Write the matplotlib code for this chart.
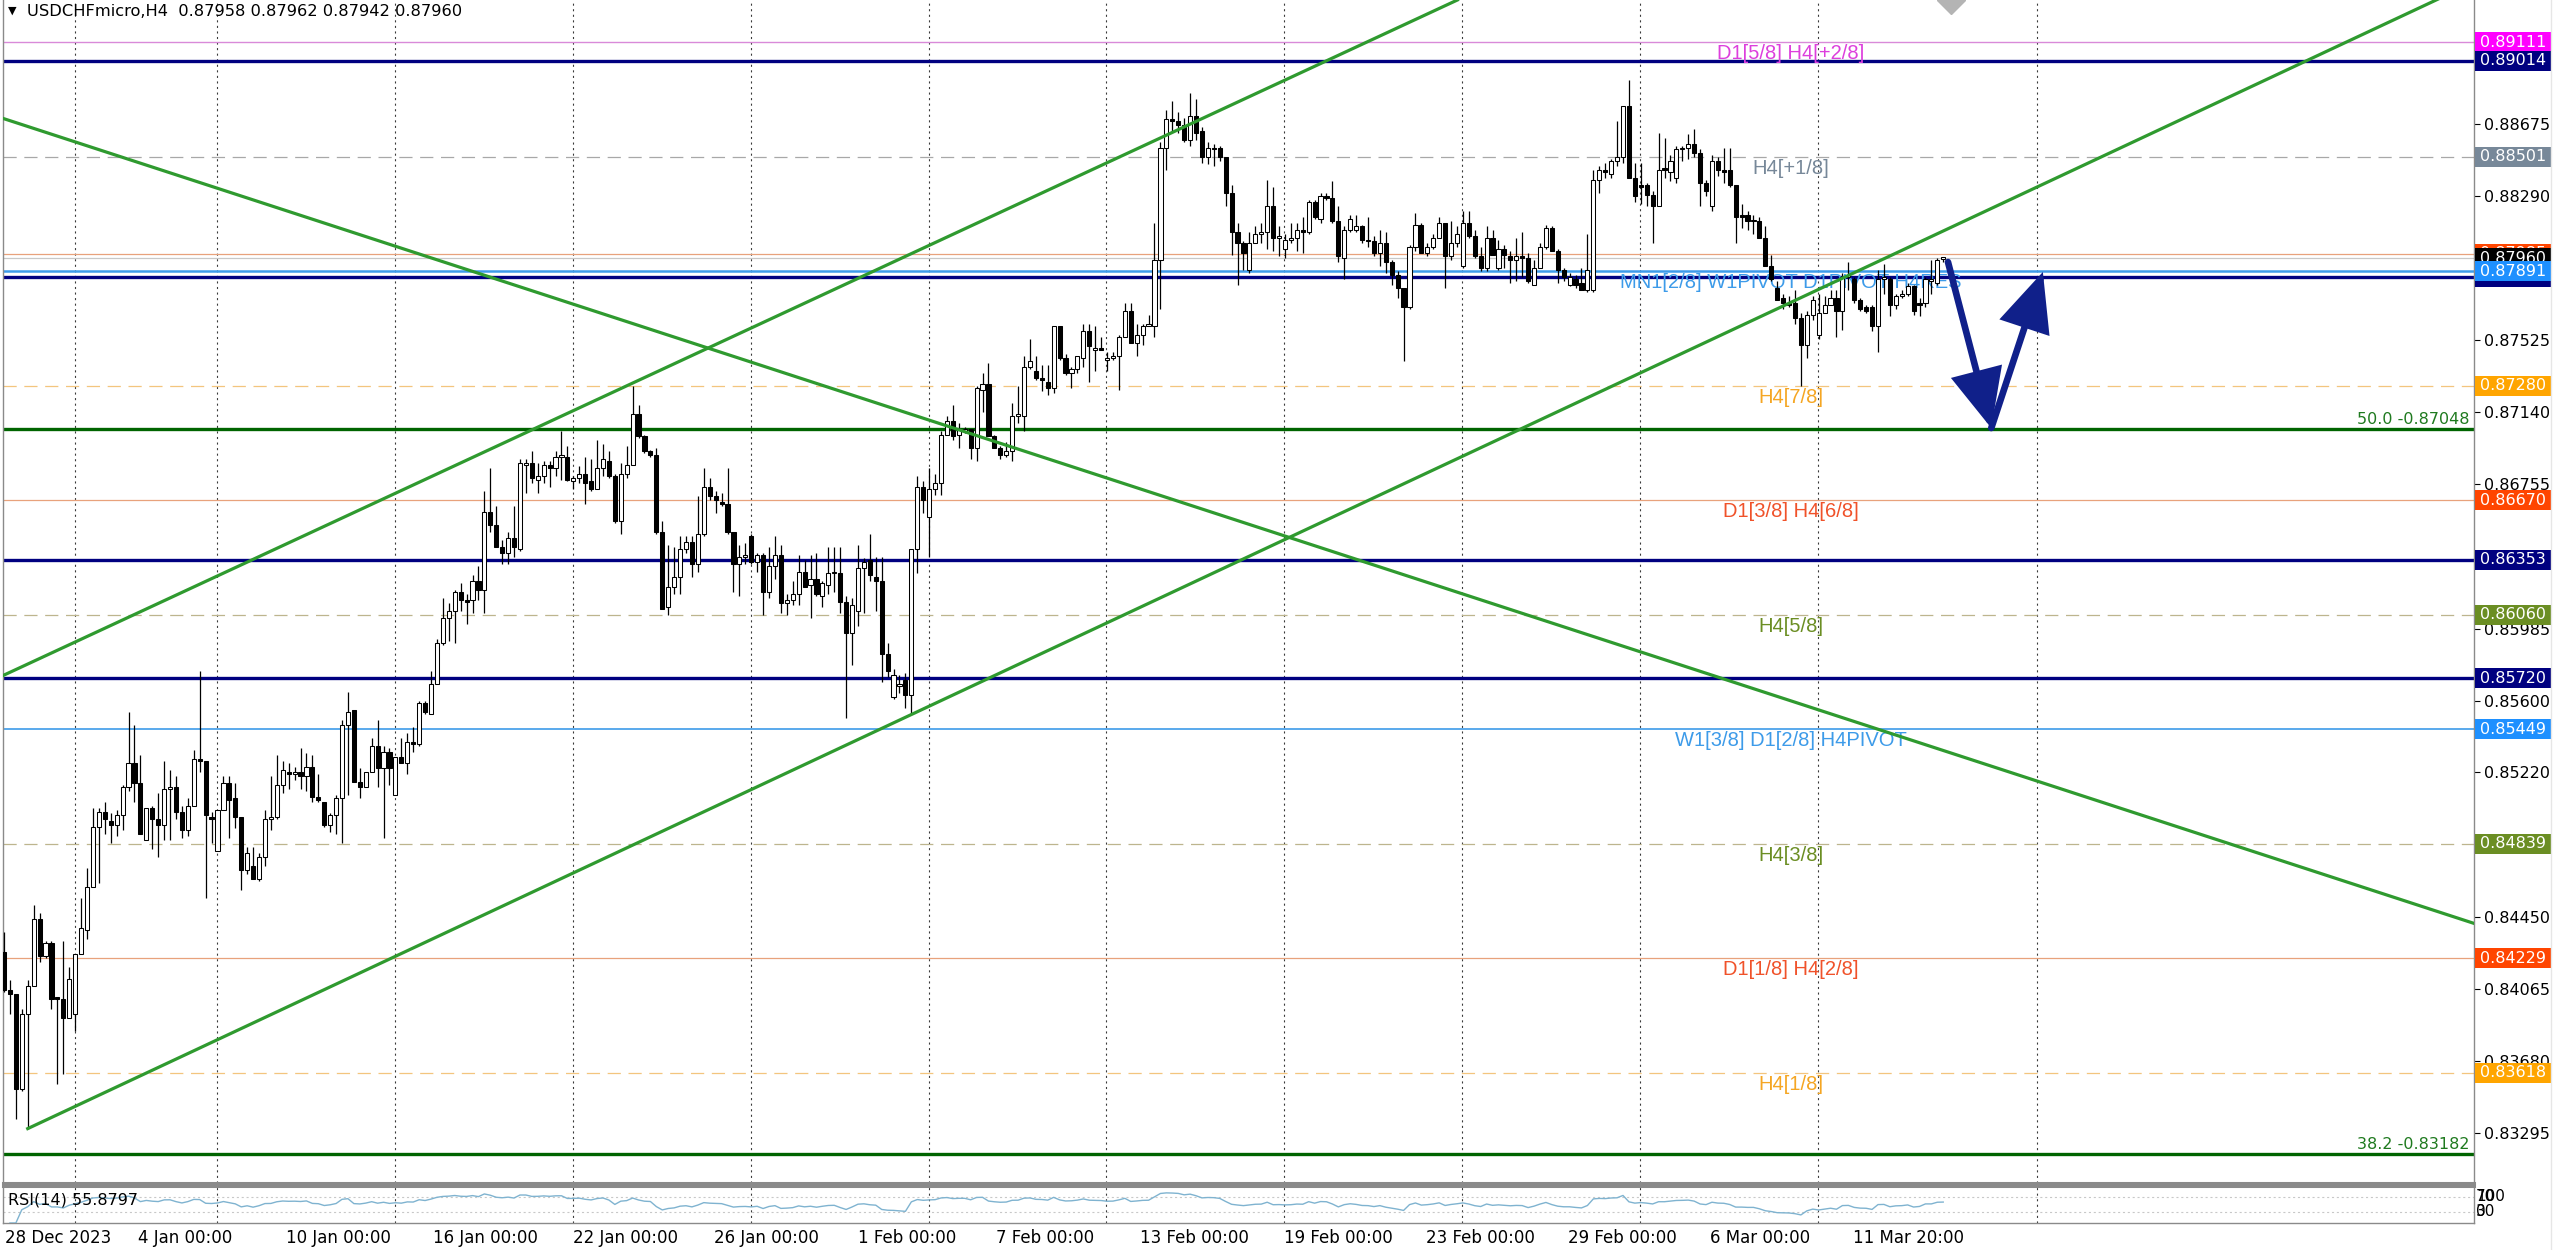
import numpy as np
import pandas as pd
import matplotlib
matplotlib.use("Agg")
import matplotlib.pyplot as plt
import matplotlib.transforms as mtrans
from matplotlib.patches import Rectangle, FancyArrowPatch
from matplotlib.lines import Line2D

plt.rcParams['lines.scale_dashes'] = False
plt.rcParams['font.family'] = ['DejaVu Sans']

# ---------------- data (USDCHFmicro, H4) ----------------
opens = [
 .8426,.8406,.8404,.8353,.8393,.8408,.8444,.8424,.8431,.8402,
 .8401,.8391,.8393,.8425,.8438,.8461,.8493,.8501,.8496,.8494,
 .8499,.8514,.8527,.8516,.8486,.8503,.8497,.8494,.8513,.8514,
 .8501,.8491,.8504,.8529,.8528,.8498,.8480,.8502,.8516,.8508,
 .8498,.8470,.8472,.8465,.8477,.8497,.8498,.8515,.8522,.8521,
 .8522,.8520,.8525,.8509,.8506,.8494,.8499,.8508,.8547,.8555,
 .8517,.8514,.8522,.8536,.8524,.8533,.8510,.8530,.8527,.8538,
 .8537,.8559,.8553,.8569,.8591,.8604,.8608,.8618,.8614,.8614,
 .8624,.8619,.8661,.8654,.8642,.8639,.8647,.8641,.8686,.8687,
 .8678,.8680,.8686,.8684,.8690,.8690,.8677,.8679,.8681,.8677,
 .8673,.8684,.8688,.8680,.8656,.8681,.8686,.8713,.8701,.8693,
 .8691,.8650,.8610,.8621,.8626,.8641,.8645,.8633,.8649,.8674,
 .8669,.8666,.8665,.8650,.8633,.8637,.8648,.8634,.8638,.8618,
 .8632,.8638,.8612,.8614,.8617,.8629,.8622,.8625,.8616,.8622,
 .8628,.8628,.8613,.8596,.8608,.8631,.8635,.8626,.8624,.8585,
 .8562,.8568,.8571,.8563,.8641,.8674,.8658,.8673,.8676,.8702,
 .8709,.8702,.8704,.8705,.8695,.8726,.8729,.8701,.8695,.8691,
 .8693,.8712,.8712,.8738,.8736,.8732,.8730,.8727,.8760,.8743,
 .8735,.8737,.8743,.8757,.8747,.8748,.8742,.8743,.8744,.8754,
 .8768,.8751,.8755,.8760,.8760,.8795,.8855,.8870,.8869,.8867,
 .8859,.8872,.8864,.8850,.8855,.8855,.8850,.8831,.8810,.8804,
 .8790,.8804,.8809,.8810,.8824,.8807,.8801,.8806,.8807,.8811,
 .8810,.8826,.8817,.8829,.8828,.8816,.8796,.8811,.8811,.8813,
 .8806,.8805,.8799,.8804,.8794,.8787,.8780,.8770,.8802,.8814,
 .8799,.8802,.8807,.8815,.8797,.8804,.8792,.8815,.8808,.8797,
 .8791,.8807,.8791,.8801,.8797,.8795,.8797,.8796,.8782,.8791,
 .8802,.8812,.8800,.8790,.8782,.8785,.8783,.8779,.8779,.8838,
 .8843,.8841,.8848,.8850,.8877,.8839,.8835,.8835,.8830,.8824,
 .8844,.8842,.8839,.8854,.8855,.8857,.8852,.8836,.8824,.8848,
 .8843,.8843,.8835,.8819,.8819,.8816,.8816,.8807,.8792,.8780,
 .8775,.8772,.8772,.8764,.8750,.8766,.8755,.8767,.8771,.8775,
 .8768,.8786,.8785,.8774,.8770,.8770,.8760,.8785,.8785,.8771,
 .8776,.8777,.8781,.8772,.8772,.8784,.8783,.87958]
highs = [
 .8437,.8411,.8404,.8396,.8411,.8451,.8447,.8432,.8432,.8402,
 .8432,.8418,.8425,.8455,.8471,.8503,.8503,.8506,.8500,.8502,
 .8515,.8554,.8547,.8531,.8503,.8504,.8511,.8528,.8523,.8520,
 .8504,.8508,.8534,.8576,.8528,.8501,.8502,.8520,.8520,.8516,
 .8498,.8482,.8482,.8479,.8502,.8520,.8531,.8528,.8527,.8525,
 .8535,.8532,.8531,.8521,.8506,.8500,.8510,.8550,.8565,.8555,
 .8524,.8522,.8540,.8550,.8536,.8535,.8530,.8540,.8543,.8546,
 .8560,.8560,.8576,.8593,.8615,.8612,.8619,.8623,.8617,.8627,
 .8632,.8672,.8684,.8664,.8646,.8650,.8664,.8689,.8689,.8693,
 .8687,.8688,.8688,.8693,.8704,.8696,.8680,.8685,.8690,.8689,
 .8699,.8697,.8693,.8681,.8687,.8696,.8728,.8718,.8702,.8694,
 .8695,.8656,.8643,.8642,.8648,.8648,.8648,.8669,.8684,.8679,
 .8672,.8671,.8684,.8650,.8643,.8644,.8649,.8639,.8639,.8642,
 .8648,.8643,.8617,.8624,.8638,.8635,.8638,.8639,.8624,.8642,
 .8642,.8642,.8616,.8615,.8643,.8636,.8649,.8637,.8637,.8591,
 .8577,.8574,.8575,.8641,.8680,.8677,.8684,.8681,.8704,.8712,
 .8718,.8708,.8706,.8705,.8728,.8735,.8740,.8702,.8696,.8698,
 .8719,.8728,.8744,.8753,.8744,.8739,.8739,.8760,.8760,.8745,
 .8738,.8744,.8761,.8761,.8760,.8754,.8746,.8746,.8755,.8772,
 .8772,.8761,.8761,.8766,.8815,.8858,.8875,.8880,.8874,.8871,
 .8884,.8881,.8866,.8858,.8857,.8856,.8850,.8835,.8815,.8805,
 .8810,.8813,.8815,.8838,.8834,.8813,.8809,.8815,.8815,.8818,
 .8827,.8827,.8831,.8831,.8837,.8824,.8813,.8819,.8819,.8814,
 .8818,.8808,.8811,.8810,.8795,.8789,.8780,.8803,.8820,.8815,
 .8804,.8809,.8818,.8815,.8816,.8813,.8821,.8821,.8811,.8802,
 .8813,.8811,.8806,.8803,.8800,.8807,.8810,.8799,.8795,.8804,
 .8814,.8813,.8801,.8791,.8788,.8787,.8791,.8809,.8843,.8845,
 .8847,.8849,.8869,.8877,.8891,.8847,.8847,.8836,.8832,.8863,
 .8860,.8851,.8856,.8856,.8862,.8865,.8854,.8838,.8851,.8850,
 .8855,.8855,.8835,.8825,.8821,.8819,.8818,.8813,.8798,.8784,
 .8777,.8776,.8779,.8767,.8768,.8776,.8777,.8776,.8779,.8779,
 .8788,.8794,.8786,.8775,.8771,.8771,.8790,.8793,.8786,.8777,
 .8779,.8783,.8782,.8775,.8786,.8795,.8796,.87962]
lows = [
 .8405,.8393,.8337,.8352,.8332,.8408,.8421,.8423,.8396,.8356,
 .8361,.8391,.8384,.8425,.8433,.8461,.8463,.8489,.8484,.8488,
 .8491,.8512,.8506,.8489,.8486,.8481,.8477,.8486,.8486,.8497,
 .8487,.8488,.8504,.8522,.8455,.8484,.8480,.8502,.8487,.8492,
 .8459,.8468,.8465,.8464,.8472,.8491,.8497,.8511,.8513,.8518,
 .8513,.8512,.8506,.8506,.8493,.8490,.8489,.8484,.8510,.8517,
 .8508,.8514,.8522,.8514,.8487,.8515,.8510,.8527,.8521,.8533,
 .8536,.8553,.8553,.8569,.8590,.8592,.8591,.8608,.8601,.8607,
 .8614,.8607,.8650,.8642,.8633,.8633,.8637,.8640,.8671,.8676,
 .8671,.8676,.8674,.8680,.8678,.8677,.8673,.8676,.8665,.8672,
 .8673,.8680,.8679,.8655,.8649,.8679,.8686,.8700,.8692,.8690,
 .8649,.8609,.8606,.8617,.8617,.8639,.8626,.8629,.8648,.8667,
 .8660,.8664,.8649,.8618,.8616,.8633,.8633,.8629,.8606,.8615,
 .8625,.8607,.8606,.8611,.8611,.8621,.8604,.8616,.8610,.8617,
 .8618,.8607,.8551,.8579,.8600,.8607,.8624,.8608,.8570,.8573,
 .8561,.8564,.8556,.8553,.8628,.8660,.8637,.8670,.8670,.8702,
 .8699,.8695,.8703,.8689,.8688,.8714,.8701,.8695,.8689,.8690,
 .8688,.8708,.8704,.8737,.8731,.8725,.8723,.8724,.8742,.8734,
 .8727,.8735,.8738,.8730,.8736,.8747,.8736,.8742,.8726,.8754,
 .8751,.8744,.8750,.8760,.8754,.8769,.8843,.8864,.8863,.8858,
 .8856,.8859,.8847,.8846,.8845,.8848,.8824,.8798,.8782,.8790,
 .8788,.8804,.8804,.8801,.8800,.8797,.8796,.8804,.8800,.8799,
 .8809,.8817,.8815,.8827,.8815,.8794,.8785,.8810,.8810,.8804,
 .8802,.8797,.8792,.8788,.8782,.8775,.8741,.8769,.8800,.8799,
 .8797,.8801,.8807,.8780,.8795,.8802,.8791,.8807,.8796,.8789,
 .8789,.8798,.8790,.8791,.8783,.8784,.8786,.8783,.8782,.8791,
 .8801,.8800,.8783,.8784,.8781,.8780,.8779,.8778,.8778,.8831,
 .8839,.8839,.8845,.8847,.8839,.8826,.8825,.8824,.8804,.8824,
 .8839,.8837,.8836,.8848,.8849,.8850,.8824,.8829,.8821,.8840,
 .8836,.8834,.8804,.8812,.8811,.8809,.8807,.8792,.8784,.8774,
 .8769,.8770,.8761,.8728,.8743,.8763,.8753,.8767,.8771,.8754,
 .8758,.8779,.8772,.8768,.8767,.8757,.8746,.8777,.8765,.8769,
 .8775,.8776,.8766,.8765,.8770,.8777,.8782,.87942]
closes = [
 .8406,.8404,.8353,.8393,.8408,.8444,.8424,.8431,.8401,.8401,
 .8391,.8412,.8425,.8439,.8461,.8493,.8501,.8497,.8494,.8499,
 .8514,.8527,.8516,.8489,.8503,.8497,.8494,.8513,.8514,.8501,
 .8491,.8504,.8529,.8528,.8499,.8497,.8502,.8516,.8507,.8498,
 .8470,.8479,.8465,.8477,.8497,.8498,.8515,.8523,.8521,.8522,
 .8520,.8525,.8509,.8507,.8494,.8499,.8508,.8547,.8554,.8517,
 .8514,.8522,.8536,.8524,.8533,.8524,.8530,.8527,.8538,.8537,
 .8559,.8554,.8569,.8591,.8604,.8608,.8618,.8614,.8613,.8624,
 .8619,.8661,.8654,.8642,.8639,.8647,.8642,.8687,.8687,.8679,
 .8680,.8686,.8684,.8690,.8691,.8678,.8679,.8681,.8676,.8673,
 .8684,.8689,.8680,.8656,.8681,.8686,.8713,.8701,.8693,.8691,
 .8650,.8609,.8621,.8626,.8641,.8645,.8633,.8649,.8674,.8669,
 .8667,.8665,.8650,.8633,.8637,.8638,.8634,.8638,.8618,.8632,
 .8638,.8612,.8614,.8617,.8629,.8621,.8625,.8617,.8623,.8628,
 .8629,.8613,.8596,.8611,.8631,.8634,.8627,.8624,.8585,.8576,
 .8574,.8569,.8563,.8641,.8674,.8667,.8673,.8676,.8702,.8709,
 .8701,.8705,.8705,.8695,.8727,.8729,.8701,.8695,.8691,.8693,
 .8712,.8713,.8738,.8741,.8732,.8731,.8727,.8760,.8743,.8735,
 .8737,.8744,.8757,.8749,.8748,.8747,.8743,.8744,.8754,.8768,
 .8751,.8755,.8760,.8761,.8795,.8855,.8870,.8869,.8867,.8859,
 .8872,.8863,.8850,.8855,.8854,.8850,.8831,.8810,.8804,.8799,
 .8804,.8809,.8810,.8824,.8807,.8808,.8806,.8807,.8811,.8810,
 .8826,.8818,.8829,.8828,.8816,.8797,.8811,.8817,.8813,.8806,
 .8805,.8799,.8804,.8794,.8787,.8780,.8770,.8802,.8814,.8799,
 .8802,.8807,.8815,.8797,.8804,.8809,.8815,.8808,.8797,.8791,
 .8807,.8798,.8801,.8798,.8795,.8797,.8796,.8784,.8791,.8802,
 .8812,.8800,.8790,.8786,.8786,.8782,.8779,.8790,.8838,.8843,
 .8842,.8848,.8850,.8877,.8839,.8829,.8834,.8830,.8824,.8843,
 .8843,.8848,.8854,.8855,.8857,.8852,.8836,.8832,.8848,.8843,
 .8842,.8835,.8818,.8818,.8816,.8816,.8807,.8792,.8785,.8774,
 .8772,.8771,.8764,.8750,.8766,.8774,.8767,.8771,.8775,.8768,
 .8786,.8787,.8774,.8769,.8768,.8760,.8785,.8786,.8771,.8776,
 .8777,.8781,.8768,.8771,.8785,.8785,.8795,.87960]

date_labels = ["28 Dec 2023", "4 Jan 00:00", "10 Jan 00:00", "16 Jan 00:00", "22 Jan 00:00",
               "26 Jan 00:00", "1 Feb 00:00", "7 Feb 00:00", "13 Feb 00:00", "19 Feb 00:00",
               "23 Feb 00:00", "29 Feb 00:00", "6 Mar 00:00", "11 Mar 20:00"]
date_label_bars = [0.1, 22.6, 47.5, 72.3, 96.0, 119.8, 144.0, 167.2, 191.6, 215.9, 239.8, 263.7, 287.7, 311.8]
grid_bars = [12.0, 35.9, 65.9, 96.0, 126.0, 156.0, 185.8, 215.9, 245.9, 275.9, 305.9, 342.8]

price_ticks = [0.89060, 0.88675, 0.88290, 0.87905, 0.87525, 0.87140, 0.86755, 0.86370,
               0.85985, 0.85600, 0.85220, 0.84835, 0.84450, 0.84065, 0.83680, 0.83295]

# horizontal levels: price, text label
level_prices = [0.89111, 0.89014, 0.88501, 0.87985, 0.87960, 0.87891, 0.87862, 0.87280,
                0.87048, 0.86670, 0.86353, 0.86060, 0.85720, 0.85449, 0.84839, 0.84229,
                0.83618, 0.83182]
level_texts = ["D1[5/8] H4[+2/8]", "", "H4[+1/8]", "", "", "MN1[2/8] W1PIVOT D1PIVOT H4RES", "",
               "H4[7/8]", "50.0 -0.87048", "D1[3/8] H4[6/8]", "", "H4[5/8]", "",
               "W1[3/8] D1[2/8] H4PIVOT", "H4[3/8]", "D1[1/8] H4[2/8]", "H4[1/8]", "38.2 -0.83182"]

# trend lines (bar index, price)
upper_channel = [(0, 0.85738), (216, 0.88910)]
lower_channel = [(4, 0.83320), (330, 0.88150)]
falling_line = [(0, 0.88704), (400, 0.84584)]
v_arrow = [(327.8, 0.87940), (335.1, 0.87055), (343.8, 0.87887)]

header = "USDCHFmicro,H4  0.87958 0.87962 0.87942 0.87960"
rsi_text = "RSI(14) 55.8797"

# ---------------- styles ----------------
NAVY = '#000080'
DODGER = '#1e90ff'
ORANGERED = '#ff4500'
ORANGE = '#ffa500'
OLIVE = '#6b8e23'
MAGENTA = '#ff00ff'
SLATE = '#778899'
DGREEN = '#006400'
TGREEN = '#2f9a2f'
DASH = (0, (9.5, 5.5))

level_style = {
    0.89111: dict(color='#d98ad9', lw=1.0, ls='-', box=MAGENTA, tc='#dd3fdd'),
    0.89014: dict(color=NAVY, lw=2.4, ls='-', box=NAVY, tc=None),
    0.88501: dict(color='#a8a8a8', lw=0.9, ls=DASH, box=SLATE, tc=SLATE),
    0.87985: dict(color='#e8a27c', lw=0.9, ls='-', box=ORANGERED, tc=None),
    0.87960: dict(color='#c8c8c8', lw=0.9, ls='-', box='#000000', tc=None),
    0.87891: dict(color='#3d9be9', lw=1.8, ls='-', box=DODGER, tc='#3d9be9'),
    0.87862: dict(color=NAVY, lw=2.4, ls='-', box=NAVY, tc=None),
    0.87280: dict(color='#f3c57e', lw=0.9, ls=DASH, box=ORANGE, tc='#f5a623'),
    0.87048: dict(color=DGREEN, lw=2.4, ls='-', box=None, tc='#1f7a1f'),
    0.86670: dict(color='#e8a27c', lw=0.9, ls='-', box=ORANGERED, tc='#f0522a'),
    0.86353: dict(color=NAVY, lw=2.4, ls='-', box=NAVY, tc=None),
    0.86060: dict(color='#bdb58e', lw=0.9, ls=DASH, box=OLIVE, tc=OLIVE),
    0.85720: dict(color=NAVY, lw=2.4, ls='-', box=NAVY, tc=None),
    0.85449: dict(color='#3d9be9', lw=1.2, ls='-', box=DODGER, tc='#3d9be9'),
    0.84839: dict(color='#bdb58e', lw=0.9, ls=DASH, box=OLIVE, tc=OLIVE),
    0.84229: dict(color='#e8a27c', lw=0.9, ls='-', box=ORANGERED, tc='#f0522a'),
    0.83618: dict(color='#f3c57e', lw=0.9, ls=DASH, box=ORANGE, tc='#f5a623'),
    0.83182: dict(color=DGREEN, lw=2.4, ls='-', box=None, tc='#1f7a1f'),
}
box_order = [0.89111, 0.89014, 0.88501, 0.87985, 0.87960, 0.87862, 0.87891, 0.87280,
             0.86670, 0.86353, 0.86060, 0.85720, 0.85449, 0.84839, 0.84229, 0.83618]

# ---------------- layout ----------------
W, H = 2560, 1250
L_PX, R_PX = 3, 2474
MAIN_BOT = 1183
RSI_TOP, RSI_BOT = 1186, 1223
XMIN, XMAX = -0.17, 416.5
YMIN, YMAX = 0.83030, 0.89337

fig = plt.figure(figsize=(W / 100, H / 100), dpi=100)
fig.patch.set_facecolor('white')
ax = fig.add_axes([L_PX / W, 1 - MAIN_BOT / H, (R_PX - L_PX) / W, MAIN_BOT / H])
rax = fig.add_axes([L_PX / W, 1 - RSI_BOT / H, (R_PX - L_PX) / W, (RSI_BOT - RSI_TOP) / H])

ax.set_xlim(XMIN, XMAX)
ax.set_ylim(YMIN, YMAX)
rax.set_xlim(XMIN, XMAX)
rax.set_ylim(0, 100)
px_per_unit = MAIN_BOT / (YMAX - YMIN)
ax_w_px = R_PX - L_PX

for a in (ax, rax):
    a.set_xticks([])
    for s in a.spines.values():
        s.set_color('#8a8a8a')
        s.set_linewidth(1.0)
ax.spines['top'].set_visible(False)
ax.spines['bottom'].set_linewidth(2.2)
rax.spines['top'].set_linewidth(2.2)

# vertical grid
for gb in grid_bars:
    ax.axvline(gb, color='#3a3a3a', lw=0.8, ls=(0, (1.5, 2.5)), zorder=1)
    rax.axvline(gb, color='#3a3a3a', lw=0.8, ls=(0, (1.5, 2.5)), zorder=1)

# horizontal levels and their texts
xt = 301.3
for p, t in zip(level_prices, level_texts):
    st = level_style[p]
    ax.axhline(p, color=st['color'], lw=st['lw'], ls=st['ls'], zorder=2)
    if t and t.startswith(('50.0', '38.2')):
        ax.text(0.998, p + 2 / px_per_unit, t, transform=mtrans.blended_transform_factory(ax.transAxes, ax.transData),
                ha='right', va='bottom', fontsize=11.5, color=st['tc'], zorder=3)
    elif t:
        ax.text(xt, p - 2 / px_per_unit, t, ha='center', va='top', fontsize=14.5,
                family=['Liberation Sans', 'DejaVu Sans'], color=st['tc'], zorder=2.5)

# candles
o = np.array(opens); h = np.array(highs); l = np.array(lows); c = np.array(closes)
x = np.arange(len(c))
up = c >= o
ax.vlines(x, l, h, color='black', lw=0.9, zorder=4)
bot = np.minimum(o, c)
hgt = np.maximum(np.abs(c - o), 1.2 / px_per_unit)
ax.bar(x[up], hgt[up], bottom=bot[up], width=0.7, facecolor='white', edgecolor='black', linewidth=0.75, zorder=5)
ax.bar(x[~up], hgt[~up], bottom=bot[~up], width=0.7, facecolor='black', edgecolor='black', linewidth=0.75, zorder=5)

# trend lines
ax.axline(upper_channel[0], upper_channel[1], color=TGREEN, lw=2.3, zorder=6)
ax.axline(falling_line[0], falling_line[1], color=TGREEN, lw=2.3, zorder=6)
(lx0, ly0), (lx1, ly1) = lower_channel
slope = (ly1 - ly0) / (lx1 - lx0)
ax.plot([lx0, XMAX + 5], [ly0, ly0 + slope * (XMAX + 5 - lx0)], color=TGREEN, lw=2.3, zorder=6)

# V arrow
for (a0, a1) in [(v_arrow[0], v_arrow[1]), (v_arrow[1], v_arrow[2])]:
    ax.add_patch(FancyArrowPatch(a0, a1, arrowstyle='-|>,head_length=1.0,head_width=0.45',
                                 mutation_scale=34, lw=4.8, color='#10208a',
                                 shrinkA=0, shrinkB=0, zorder=7, joinstyle='miter'))

# gray marker at top
ax.plot([328.3], [YMAX], marker='D', ms=14, color='#b4b4b4', zorder=7, clip_on=True)

# price axis
ax.yaxis.tick_right()
ax.set_yticks(price_ticks)
ax.set_yticklabels([f'{v:.5f}' for v in price_ticks])
ax.tick_params(axis='y', length=4, width=0.8, pad=3, labelsize=11.5, colors='black')

tr = mtrans.blended_transform_factory(ax.transAxes, ax.transData)
bh = 20 / px_per_unit
for i, p in enumerate(box_order):
    col = level_style[p]['box']
    ax.add_patch(Rectangle((1 + 1 / ax_w_px, p - bh / 2), 76 / ax_w_px, bh, transform=tr,
                           facecolor=col, edgecolor='none', clip_on=False, zorder=20 + 2 * i))
    ax.text(1 + 6 / ax_w_px, p, f'{p:.5f}', transform=tr, color='white', fontsize=11.5,
            ha='left', va='center', clip_on=False, zorder=21 + 2 * i)

# RSI(14) from closes (Wilder smoothing)
cs = pd.Series(closes)
d = cs.diff()
gain = d.clip(lower=0).ewm(alpha=1 / 14, adjust=False).mean()
loss = (-d.clip(upper=0)).ewm(alpha=1 / 14, adjust=False).mean()
rsi = 100 - 100 / (1 + gain / loss.replace(0, np.nan))
rax.plot(x[1:], rsi.values[1:], color='#7fb3d0', lw=1.0, zorder=3)
rax.axhline(70, color='#c8c8c8', lw=0.8, ls=(0, (1.5, 2)), zorder=1)
rax.axhline(30, color='#c8c8c8', lw=0.8, ls=(0, (1.5, 2)), zorder=1)
rax.set_yticks([])
rax.text(0.002, 0.62, rsi_text, transform=rax.transAxes, fontsize=11.5, va='center', ha='left', zorder=5)
rtr = mtrans.blended_transform_factory(rax.transAxes, rax.transData)
for lab, yv in [("100", 72), ("70", 72), ("30", 32), ("0", 32)]:
    rax.text(1 + 2 / ax_w_px, yv, lab, transform=rtr, fontsize=11, va='center', ha='left', clip_on=False)

# date labels
dtr = mtrans.blended_transform_factory(rax.transData, fig.transFigure)
for lab, xb in zip(date_labels, date_label_bars):
    fig.text(xb, 1 - 1238 / H, lab, transform=dtr, fontsize=12, ha='left', va='center')

# header
fig.text(8 / W, 1 - 11 / H, '\u25bc', fontsize=8, va='center', ha='left')
fig.text(27 / W, 1 - 11 / H, header, fontsize=11.7, va='center', ha='left')

# faint right border
fig.add_artist(Line2D([2551 / W, 2551 / W], [0, 1], color='#e6e6e6', lw=1))

fig.savefig('out.png', dpi=100, facecolor='white')
